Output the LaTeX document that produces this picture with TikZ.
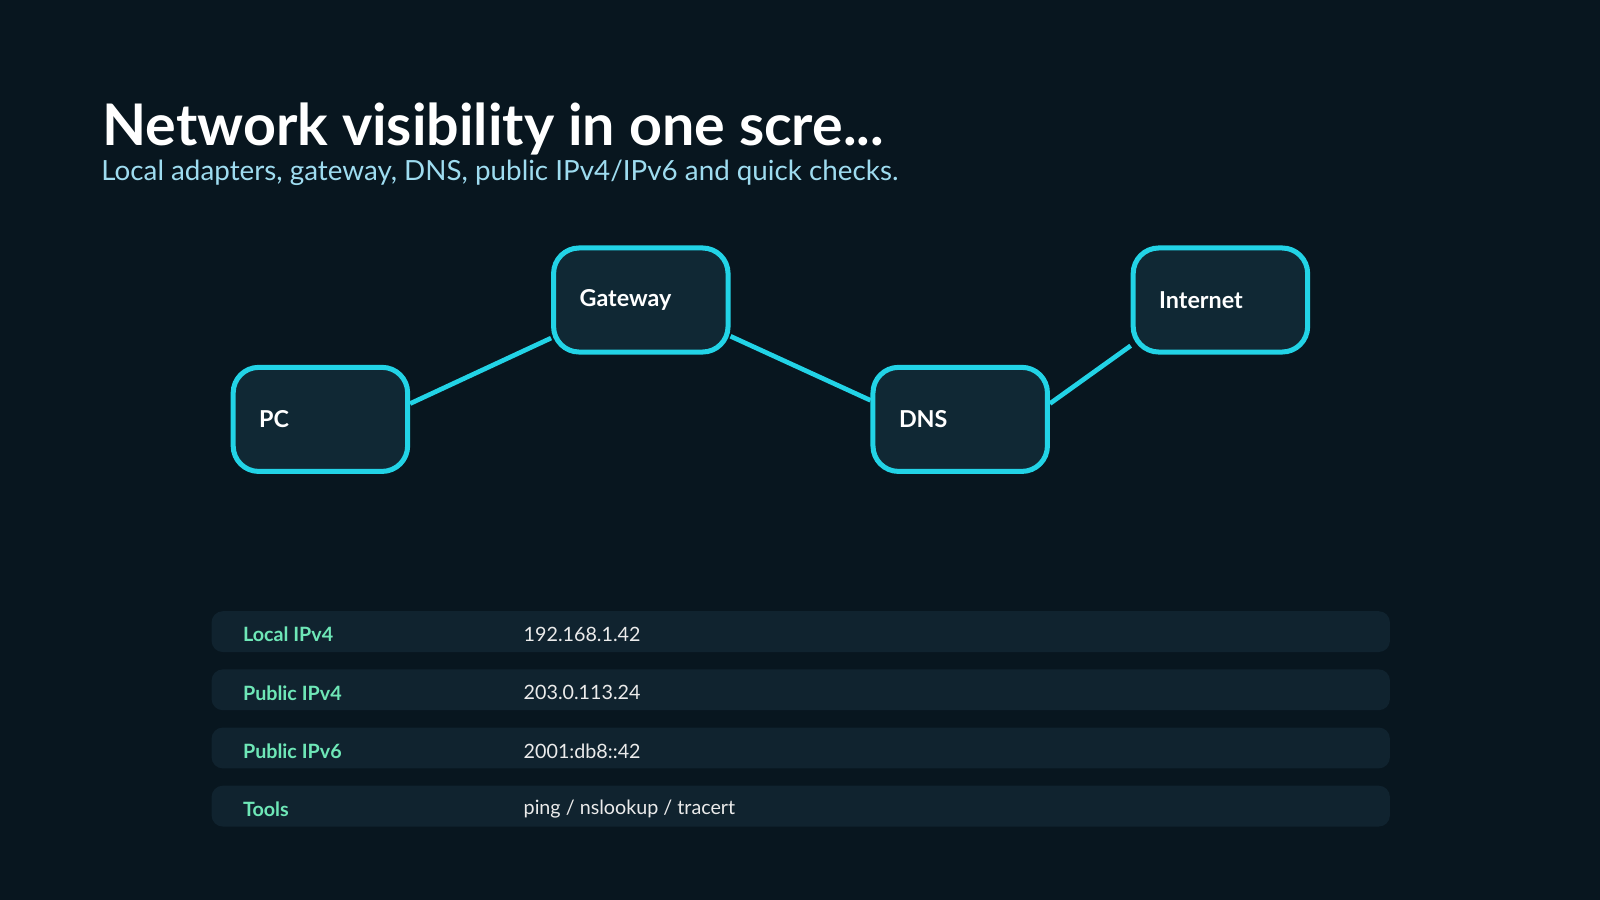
\documentclass[tikz,border=0pt]{standalone}
\usepackage{fontspec}
\setmainfont{Lato}
\definecolor{bgcol}{HTML}{08161F}
\definecolor{boxfill}{HTML}{102834}
\definecolor{edgecol}{HTML}{22D3E6}
\definecolor{rowfill}{HTML}{10232F}
\definecolor{keycol}{HTML}{6EE7B7}
\definecolor{subcol}{HTML}{9EDCF0}
\tikzset{
  host/.style={rectangle, rounded corners=0.5cm, draw=edgecol, fill=boxfill, line width=2.8pt,
    minimum width=3.42cm, minimum height=2.04cm, text width=2.4cm, align=left,
    text=white, font=\fontsize{13}{15}\selectfont\bfseries},
  link/.style={draw=edgecol, line width=2.6pt},
  row/.style={rectangle, rounded corners=0.22cm, fill=rowfill, minimum width=23.1cm, minimum height=0.8cm, anchor=west},
  key/.style={anchor=west, text=keycol, font=\fontsize{11}{13}\selectfont\bfseries},
  val/.style={anchor=west, text=white!92!black, font=\fontsize{11}{13}\selectfont}
}
\begin{document}
\begin{tikzpicture}[x=0.02cm, y=-0.02cm]
  \fill[bgcol] (0,0) rectangle (1568,882);
  \useasboundingbox (0,0) rectangle (1568,882);

  % title
  \node[anchor=base west, inner sep=0, text=white, font=\fontsize{32}{38}\selectfont\bfseries] (title) at (100,143) {Network visibility in one scre...};
  \node[anchor=base west, inner sep=0, text=subcol, font=\fontsize{15.5}{19}\selectfont] (subtitle) at (99,177) {Local adapters, gateway, DNS, public IPv4/IPv6 and quick checks.};

  % hosts
  \node[host] (pc) at (314,411) {PC};
  \node[host] (gw) at (628,294) {Gateway};
  \node[host] (dns) at (941,411) {DNS};
  \node[host] (net) at (1196,294) {Internet};

  \draw[link] (pc.10) -- (gw.203);
  \draw[link] (gw.-22) -- (dns.168);
  \draw[link] (dns.10) -- (net.207);

  % table
  \foreach \y/\k/\v [count=\i] in {619/Local IPv4/192.168.1.42, 676/Public IPv4/203.0.113.24,
      733/Public IPv6/2001:db8::42, 790/Tools/{ping / nslookup / tracert}} {
    \node[row] (row\i) at (207,\y) {};
    \node[key] (key\i) at (232,\y+3) {\k};
    \node[val] (val\i) at (507,\y+3) {\v};
  }
\end{tikzpicture}
\end{document}
